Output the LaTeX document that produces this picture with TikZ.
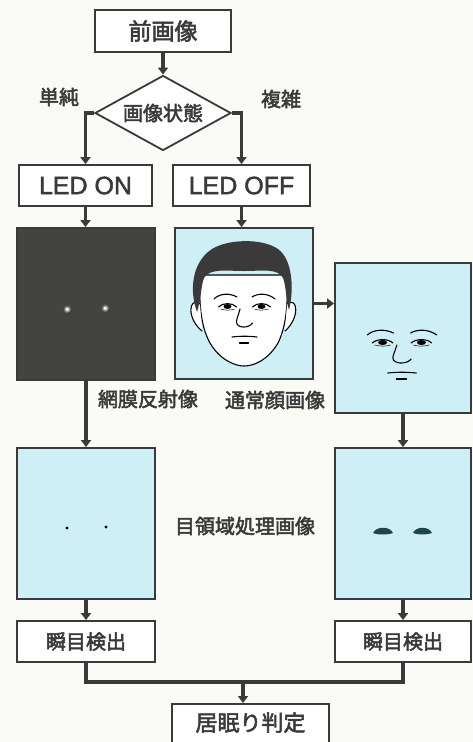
\documentclass[tikz,border=0pt]{standalone}
\usepackage{fontspec}
\setmainfont{Noto Sans CJK JP}[BoldFont=Noto Sans CJK JP,BoldFeatures={FakeBold=2.5}]
\newfontfamily\latinfont{Liberation Sans}[BoldFont=Liberation Sans,BoldFeatures={FakeBold=1.8}]
\usetikzlibrary{arrows.meta,shapes.geometric,calc}
\definecolor{ink}{HTML}{3A3A3A}
\definecolor{paper}{HTML}{FAFAF7}
\definecolor{sky}{HTML}{CDEFF5}
\definecolor{night}{HTML}{434341}
\definecolor{lidink}{HTML}{1E4646}

\begin{document}
\begin{tikzpicture}[x=1pt,y=-1pt,
  box/.style={draw=ink,line width=1.8pt,fill=white,inner sep=0pt,text=ink,
    font=\bfseries\fontsize{20}{20}\selectfont},
  panel/.style={draw=ink,line width=1.8pt,inner sep=0pt},
  flow/.style={draw=ink,line width=3.5pt,-{Triangle[width=10pt,length=7pt]}},
  link/.style={draw=ink,line width=3.5pt},
  lbl/.style={font=\bfseries\fontsize{20}{20}\selectfont,text=ink,inner sep=0pt},
  stroke/.style={line width=1.1pt,line cap=round,draw=black},
  features/.pic={
    % eyebrows
    \draw[stroke] (-30.5,-8) .. controls (-24.5,-14) and (-14.5,-14) .. (-7.5,-10);
    \draw[stroke] (7.5,-10) .. controls (13.5,-14) and (23.5,-14) .. (30.5,-8);
    % eyes
    \draw[stroke] (-26,0) .. controls (-22,-4.5) and (-12,-4.5) .. (-8,0);
    \draw[stroke] (8,0) .. controls (12,-4.5) and (22,-4.5) .. (26,0);
    \fill (-17,-0.5) ellipse [x radius=4pt, y radius=2.5pt];
    \fill (17,-0.5) ellipse [x radius=4pt, y radius=2.5pt];
    \draw[stroke,line width=0.5pt] (-24,2) .. controls (-19,3.5) and (-14,3.5) .. (-10,2);
    \draw[stroke,line width=0.5pt] (10,2) .. controls (14,3.5) and (19,3.5) .. (24,2);
    % nose
    \draw[stroke] (-4.5,2) .. controls (-6,8) and (-8,12) .. (-8,15)
      .. controls (-8,21) and (4,22) .. (8,16);
    % mouth and lower lip
    \draw[stroke] (-12.5,30) .. controls (-4,29) and (4,29) .. (12.5,30);
    \draw[stroke] (-5,36) -- (4,36);
  }
]
\fill[paper] (0,0) rectangle (473,742);
\useasboundingbox (0,0) rectangle (473,742);

% decision part
\node[box,minimum width=136pt,minimum height=42pt,font=\bfseries\fontsize{23}{23}\selectfont] (prev) at (163,31) {前画像};
\node[box,shape=diamond,aspect=1.8,minimum width=136pt,minimum height=75pt] (state) at (163,113) {画像状態};
\node[box,minimum width=133pt,minimum height=41pt,font=\latinfont\bfseries\fontsize{25}{25}\selectfont] (ledon) at (85.5,185.5) {LED ON};
\node[box,minimum width=137pt,minimum height=41pt,font=\latinfont\bfseries\fontsize{25}{25}\selectfont] (ledoff) at (241.5,185.5) {LED OFF};

% image panels
\node[panel,fill=night,minimum width=138pt,minimum height=152pt] (retina) at (86,304) {};
\node[panel,fill=sky,minimum width=138pt,minimum height=151pt] (face) at (244,303.5) {};
\node[panel,fill=sky,minimum width=136pt,minimum height=150pt] (feat) at (403,338) {};
\node[panel,fill=sky,minimum width=138pt,minimum height=151pt] (eyeL) at (86,523.5) {};
\node[panel,fill=sky,minimum width=136pt,minimum height=151pt] (eyeR) at (403,523.5) {};

% detection and decision boxes
\node[box,minimum width=138pt,minimum height=41pt] (blinkL) at (86,641.5) {瞬目検出};
\node[box,minimum width=136pt,minimum height=41pt] (blinkR) at (403,641.5) {瞬目検出};
\node[box,anchor=north,minimum width=157pt,text height=27pt,text depth=40pt,
  font=\bfseries\fontsize{22}{22}\selectfont] (final) at (250.5,703) {居眠り判定};

% retina reflections
\shade[inner color=white,outer color=night] (67,309) circle (4pt);
\shade[inner color=white,outer color=night] (105,308) circle (4pt);
\fill[white] (67,309) circle (1.5pt);
\fill[white] (105,308) circle (1.5pt);

% face
\draw[stroke,fill=white] (200,275) .. controls (199,300) and (200,325) .. (210,343)
  .. controls (220,360) and (235,366) .. (244,366)
  .. controls (254,366) and (268,360) .. (278,343)
  .. controls (287,325) and (288,300) .. (287,275) -- cycle;
\draw[stroke,fill=white] (200,304) .. controls (189,296) and (186,318) .. (202,331);
\draw[stroke,fill=white] (287,304) .. controls (298,296) and (300,318) .. (285,331);
\fill[ink] (197,312) .. controls (189,290) and (192,262) .. (212,249)
  .. controls (228,239) and (262,238) .. (278,249)
  .. controls (293,260) and (294,290) .. (289,310)
  .. controls (286,300) and (286,285) .. (283,278)
  .. controls (278,268) and (262,271) .. (244,271)
  .. controls (226,271) and (210,268) .. (204,278)
  .. controls (201,285) and (201,300) .. cycle;
\pic at (244.5,307) {features};
\pic[xscale=1.14] at (402,343) {features};

% processed eye regions
\fill[black] (67,528) circle (1.6pt);
\fill[black] (106,527) circle (1.6pt);
\fill[lidink] (373,533) .. controls (376,526) and (390,526) .. (393,533)
  .. controls (388,535) and (378,535) .. cycle;
\fill[lidink] (413,533) .. controls (416,526) and (429,526) .. (432,533)
  .. controls (427,535) and (418,535) .. cycle;

% labels
\node[lbl] (simple) at (59,97) {単純};
\node[lbl] (complex) at (281,99) {複雑};
\node[lbl] (retlbl) at (148,399) {網膜反射像};
\node[lbl] (facelbl) at (275,400) {通常顔画像};
\node[lbl] (proclbl) at (245,526) {目領域処理画像};

% connectors
\draw[flow] (prev.south) -- (state.north);
\draw[flow] (state.west) -| (ledon.north);
\draw[flow] (state.east) -| (ledoff.north);
\draw[flow] (ledon.south) -- (ledon.south |- retina.north);
\draw[flow] (ledoff.south) -- (ledoff.south |- face.north);
\draw[flow] (face.east) -- (face.east -| feat.west);
\draw[flow] (retina.south) -- (eyeL.north);
\draw[flow] (feat.south) -- (eyeR.north);
\draw[flow] (eyeL.south) -- (blinkL.north);
\draw[flow] (eyeR.south) -- (blinkR.north);
\coordinate (join) at (243,682);
\draw[link] (blinkL.south) |- (join) -| (blinkR.south);
\draw[flow] (join) -- (join |- final.north);
\end{tikzpicture}
\end{document}
